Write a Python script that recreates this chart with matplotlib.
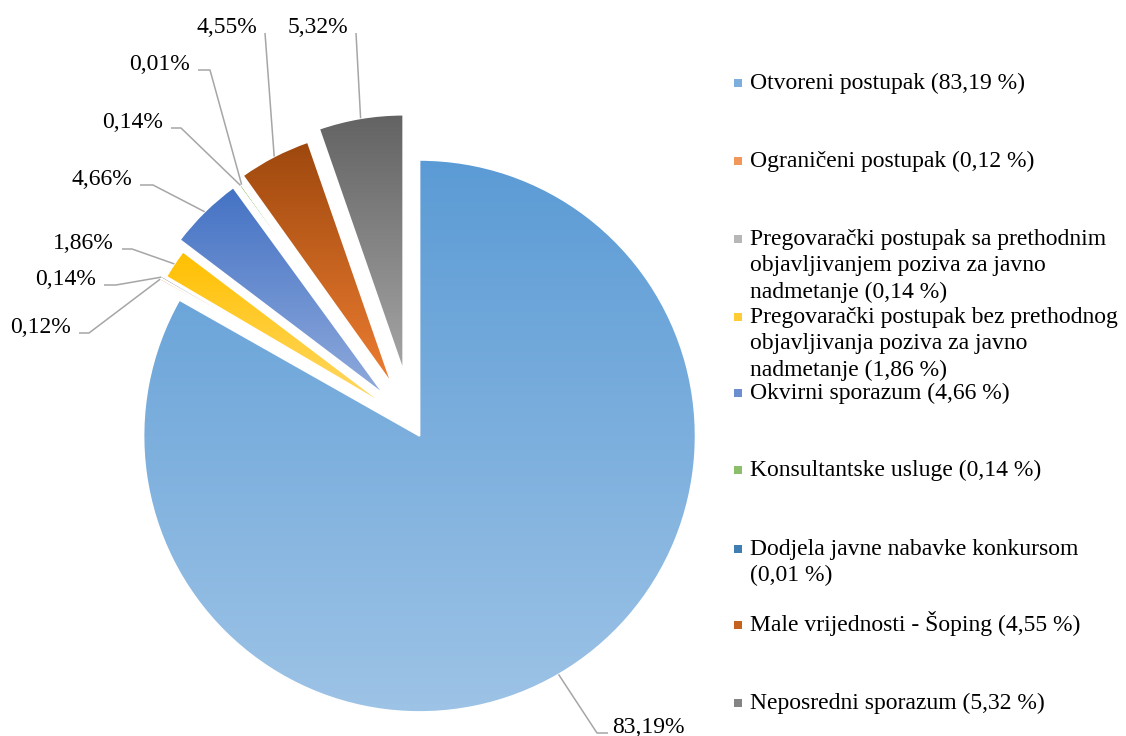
import numpy as np
import matplotlib
matplotlib.use("Agg")
import matplotlib.pyplot as plt
from matplotlib.colors import to_rgb

plt.rcParams["font.family"] = ["Liberation Serif", "DejaVu Serif"]

# data, in legend order (clockwise from 12 o'clock)
categories = [
    "Otvoreni postupak",
    "Ograničeni postupak",
    "Pregovarački postupak sa prethodnim\nobjavljivanjem poziva za javno\nnadmetanje",
    "Pregovarački postupak bez prethodnog\nobjavljivanja poziva za javno\nnadmetanje",
    "Okvirni sporazum",
    "Konsultantske usluge",
    "Dodjela javne nabavke konkursom\n",
    "Male vrijednosti - Šoping",
    "Neposredni sporazum",
]
shares = [83.19, 0.12, 0.14, 1.86, 4.66, 0.14, 0.01, 4.55, 5.32]

# styling
top_colors = ["#5B9BD5", "#ED7D31", "#A5A5A5", "#FFC000", "#4472C4",
              "#70AD47", "#255E91", "#9E480E", "#636363"]
bottom_colors = ["#9DC3E6", "#F4B183", "#C9C9C9", "#FFD966", "#8FAADC",
                 "#A9D18E", "#5B9BD5", "#ED7D31", "#A5A5A5"]
explode_px = [15, 34, 34, 30, 40, 37, 37, 44, 53]
radius_px = [276, 256, 256, 256, 256, 256, 256, 256, 256]
center = (412, 423)

# label layout: (x, baseline y, side), elbow length
label_pos = [(612, 733, "left"), (71, 333, "right"), (96, 285, "right"),
             (114, 249, "right"), (132, 185, "right"), (163, 128, "right"),
             (190, 70, "right"), (257, 33, "right"), (348, 33, "right")]
elbow_len = [11, 10, 12, 10, 13, 10, 12, 0, 0]

legend_y = [82, 160, 238, 316, 392, 469, 548, 624, 702]
line_step = 26.5
fs = 17

fig = plt.figure(figsize=(11.26, 7.36), dpi=100, facecolor="white")
ax = fig.add_axes([0, 0, 1, 1])

# pie explode offsets are in data units (pixels here)
wedges, _ = ax.pie(
    shares,
    explode=explode_px,
    radius=256,
    center=center,
    startangle=-90,
    counterclock=True,
    wedgeprops=dict(facecolor="none", edgecolor="white", linewidth=1.2),
)

ax.set_axis_off()

for i, w in enumerate(wedges):
    w.set_radius(radius_px[i])
    w.set_zorder(3)
    ext = w.get_path().get_extents()
    c0 = np.array(to_rgb(top_colors[i]))
    c1 = np.array(to_rgb(bottom_colors[i]))
    t = np.linspace(0, 1, 256)[:, None, None]
    grad = c0[None, None, :] * (1 - t) + c1[None, None, :] * t
    im = ax.imshow(grad, extent=(ext.x0, ext.x1, ext.y1, ext.y0),
                   origin="upper", aspect="auto", interpolation="bilinear",
                   zorder=2)
    im.set_clip_path(w)

ax.set_xlim(0, 1126)
ax.set_ylim(736, 0)
ax.set_aspect("auto")

# data labels with leader lines
for i, w in enumerate(wedges):
    tm = np.deg2rad((w.theta1 + w.theta2) / 2)
    ax_x = w.center[0] + w.r * np.cos(tm)
    ax_y = w.center[1] + w.r * np.sin(tm)
    lx, ly, side = label_pos[i]
    txt = ("%.2f%%" % shares[i]).replace(".", ",")
    if side == "right":
        ax.text(lx, ly, txt, ha="right", va="baseline", fontsize=fs, color="black")
        sx = lx + 8
        ex = sx + elbow_len[i]
    else:
        ax.text(lx, ly, txt, ha="left", va="baseline", fontsize=fs, color="black")
        sx = lx - 4
        ex = sx - elbow_len[i]
    ax.plot([sx, ex, ax_x], [ly, ly, ax_y], color="#A6A6A6", lw=1.1,
            solid_capstyle="butt", zorder=4)

# legend
for i, name in enumerate(categories):
    lines = [l for l in name.split("\n") if l != ""]
    pct = " (" + ("%.2f" % shares[i]).replace(".", ",") + " %)"
    if name.endswith("\n"):
        lines.append(pct.strip())
    else:
        lines[-1] = lines[-1] + pct
    mid = (np.array(to_rgb(top_colors[i])) + np.array(to_rgb(bottom_colors[i]))) / 2
    ax.scatter([738], [legend_y[i] + 1], marker="s", s=26, color=mid,
               linewidths=0, zorder=4)
    for k, line in enumerate(lines):
        ax.text(750, legend_y[i] + k * line_step + 7, line, ha="left",
                va="baseline", fontsize=fs, color="black")

fig.savefig("out.png", dpi=100, facecolor="white")
